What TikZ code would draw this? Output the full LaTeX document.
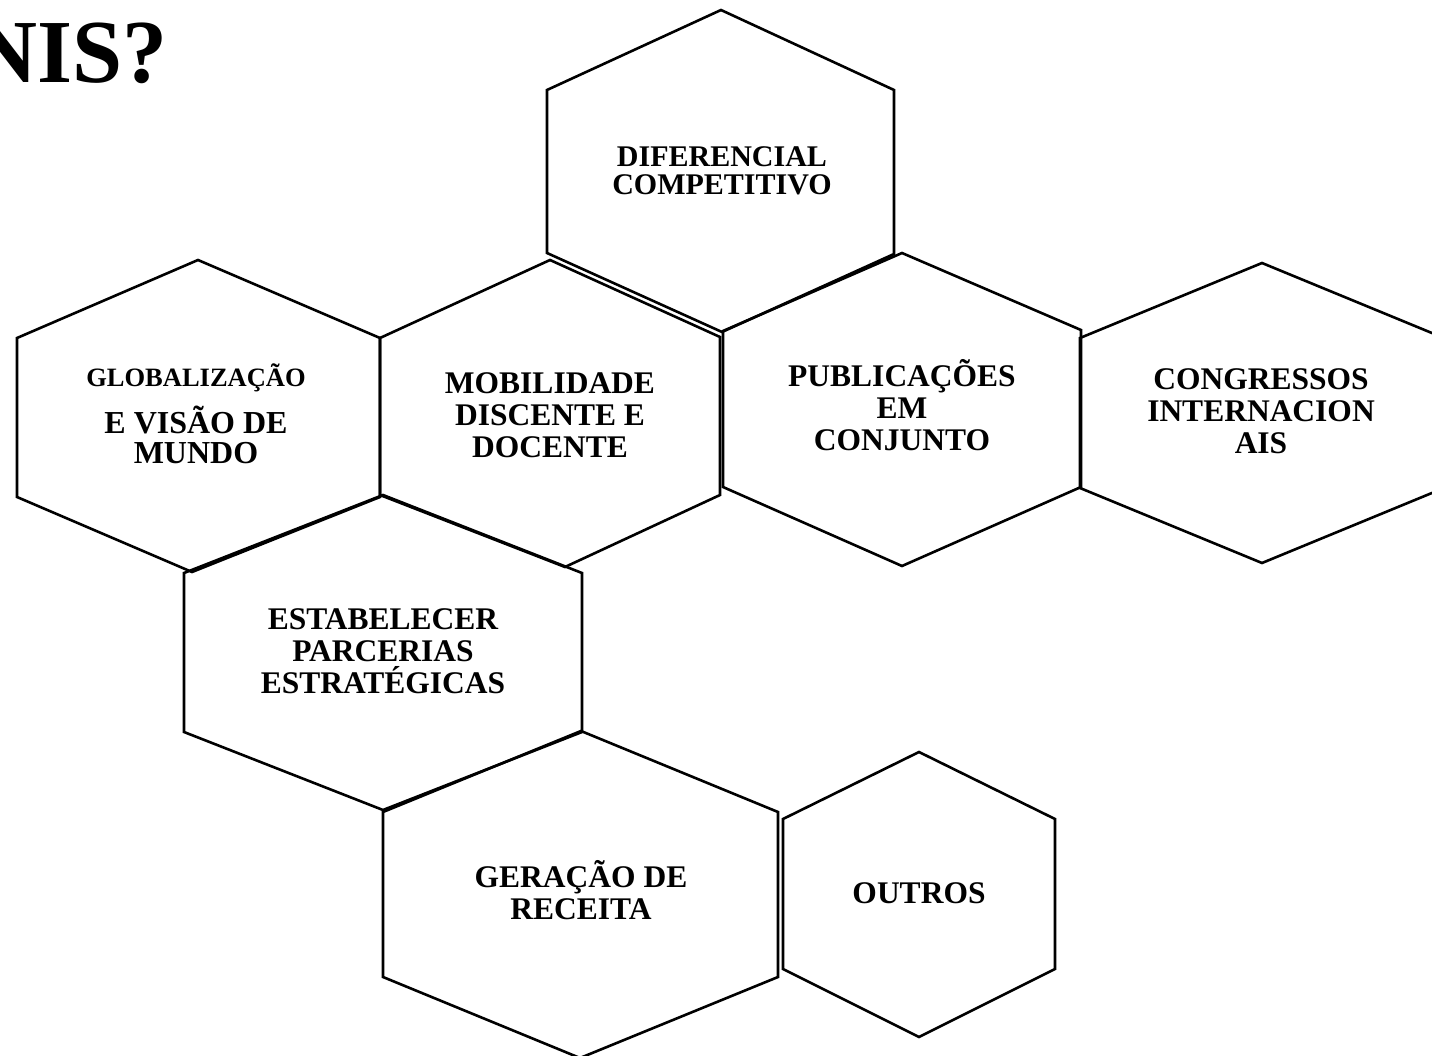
\documentclass[tikz,border=0pt]{standalone}
\usepackage{fontspec}
\setmainfont{Liberation Serif}
\begin{document}
\begin{tikzpicture}[x=1pt,y=-1pt,
  hexa/.style={draw=black,line width=2.6pt,line join=miter},
  lbl/.style={font=\bfseries\fontsize{31.5}{32}\selectfont,align=center,inner sep=0pt,anchor=base},
  lblsmall/.style={font=\bfseries\fontsize{26.5}{26}\selectfont,inner sep=0pt,anchor=base}]
\useasboundingbox (0,0) rectangle (1432,1056);
% hexagons
\draw[hexa] (721,10) -- (894,90) -- (894,254) -- (722,332) -- (547,253) -- (547,90) -- cycle;
\draw[hexa] (198,260) -- (380,338) -- (380,497) -- (192,572) -- (17,497) -- (17,338) -- cycle;
\draw[hexa] (550,260) -- (720,337) -- (720,495) -- (565,567) -- (380,495) -- (380,338) -- cycle;
\draw[hexa] (902,253) -- (1081,330) -- (1081,487) -- (902,566) -- (723,487) -- (723,331) -- cycle;
\draw[hexa] (1262,263) -- (1444,338) -- (1444,488) -- (1262,563) -- (1080,488) -- (1080,338) -- cycle;
\draw[hexa] (383,495) -- (582,573) -- (582,732) -- (383,810) -- (184,732) -- (184,573) -- cycle;
\draw[hexa] (581,731) -- (778,812) -- (778,977) -- (580,1058) -- (383,977) -- (383,812) -- cycle;
\draw[hexa] (919,752) -- (1055,819) -- (1055,969) -- (919,1037) -- (783,969) -- (783,819) -- cycle;
% title
\node[font=\bfseries\fontsize{90}{90}\selectfont,inner sep=0pt,anchor=base east] (title) at (168,83) {NIS?};
% labels
\node[lbl,font=\bfseries\fontsize{30}{28}\selectfont] (dif) at (722,195) {DIFERENCIAL\\COMPETITIVO};
\node[lblsmall] (glob) at (196,387) {GLOBALIZAÇÃO};
\node[lbl,font=\bfseries\fontsize{32}{30}\selectfont] (visao) at (196,463) {E VISÃO DE\\MUNDO};
\node[lbl] (mob) at (550,457) {MOBILIDADE\\DISCENTE E\\DOCENTE};
\node[lbl] (pub) at (902,450) {PUBLICAÇÕES\\EM\\CONJUNTO};
\node[lbl] (cong) at (1261,453) {CONGRESSOS\\INTERNACION\\AIS};
\node[lbl] (est) at (383,693) {ESTABELECER\\PARCERIAS\\ESTRATÉGICAS};
\node[lbl] (ger) at (581,919) {GERAÇÃO DE\\RECEITA};
\node[lbl] (out) at (919,903) {OUTROS};
\end{tikzpicture}
\end{document}
